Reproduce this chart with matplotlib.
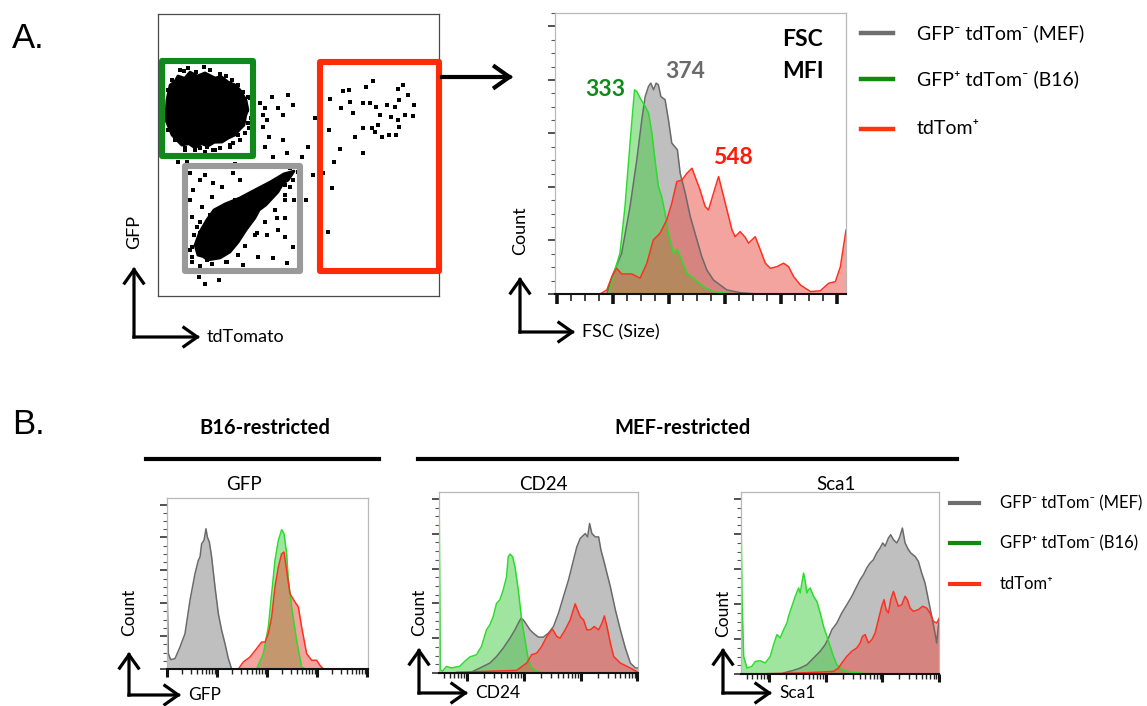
import numpy as np
import matplotlib.pyplot as plt
from matplotlib.patches import Rectangle, Polygon, FancyArrowPatch
from matplotlib.ticker import MultipleLocator, LogLocator, NullFormatter

plt.rcParams['font.family'] = ['Lato', 'DejaVu Sans']

# ---------------- data ----------------
# A: GFP vs tdTomato dot plot (channel units 0-1000)
b16_blob_td = [32, 43, 60, 71, 95, 114, 140, 167, 203, 225, 249, 275, 292, 313, 320, 312, 306, 290, 274,
               250, 228, 200, 178, 155, 132, 110, 85, 65, 50, 28]
b16_blob_gfp = [695, 748, 760, 780, 772, 794, 780, 791, 773, 778, 759, 748, 730, 695, 660, 640, 606, 590,
                571, 560, 546, 545, 532, 540, 525, 540, 535, 555, 571, 624]
mef_blob_td = [484, 463, 445, 427, 384, 360, 345, 313, 285, 256, 221, 178, 160, 142, 132, 149, 174, 199,
               238, 292, 345, 399, 448]
mef_blob_gfp = [443, 411, 400, 369, 323, 305, 277, 234, 191, 156, 135, 128, 140, 145, 181, 227, 270, 305,
                326, 348, 376, 404, 433]

dots_td = [612, 659, 680, 740, 765, 854, 872, 890, 911, 684, 651, 694, 730, 755, 776, 790, 815, 844,
           858, 879, 908, 829, 854, 783, 762, 730, 701, 773, 797, 822, 847, 858, 609, 648, 730, 627,
           587, 619, 605, 559, 552,
           363, 381, 374, 388, 406, 427, 445, 463, 481, 374, 395, 445, 459, 381, 409, 513, 534, 527,
           484, 452, 427, 452, 481, 356, 409, 459, 146, 167, 217, 139, 103, 71, 274,
           114, 150, 167, 196, 228, 267, 292, 125, 114, 157, 192, 121, 139, 121, 150, 174, 246, 303,
           352, 388, 424, 452, 470, 150, 167, 210, 121,
           93, 164, 242, 125, 142, 53, 36, 320, 317, 320, 310, 285, 267, 256, 121, 96, 150, 174, 43,
           53, 196, 221,
           78, 107, 135, 185, 221, 263, 285, 303, 328, 335, 331, 324, 292, 256, 203, 167, 132, 96,
           61, 36, 28, 36, 50,
           498, 470, 452, 417, 370, 328, 274, 228, 185, 150, 128, 114, 121, 150, 192, 242, 285, 310,
           345, 381, 417, 452, 481]
dots_gfp = [699, 728, 731, 742, 763, 735, 749, 714, 678, 689, 667, 650, 685, 685, 671, 643, 678, 671,
            696, 643, 639, 635, 625, 607, 596, 596, 564, 582, 564, 572, 572, 600, 589, 522, 508, 476,
            437, 383, 227, 632, 430,
            685, 667, 643, 625, 706, 667, 643, 714, 678, 600, 564, 554, 508, 529, 493, 493, 529, 341,
            341, 277, 234, 209, 174, 138, 135, 117, 67, 43, 57, 465, 476, 476, 469,
            437, 412, 430, 401, 387, 437, 412, 376, 341, 316, 351, 280, 245, 174, 153, 128, 121, 110,
            224, 217, 277, 341, 387, 224, 199, 153, 138,
            799, 813, 781, 767, 774, 731, 696, 706, 660, 614, 579, 572, 543, 529, 543, 525, 525, 529,
            600, 579, 518, 525,
            802, 809, 795, 802, 788, 767, 749, 724, 703, 678, 632, 596, 554, 536, 518, 511, 518, 518,
            554, 589, 660, 731, 767,
            440, 454, 394, 383, 341, 323, 341, 312, 288, 263, 217, 163, 121, 107, 114, 121, 146, 178,
            217, 263, 305, 359, 412]

gate_x0 = [14, 96, 577]
gate_x1 = [338, 506, 1000]
gate_y0 = [497, 89, 89]
gate_y1 = [834, 462, 831]
gate_colors = ['#11891a', '#9a9a9a', '#ff2a06']

# A: FSC histograms (% of max)
fsc_mef_x = [178, 201, 231, 261, 285, 303, 315, 327, 335, 345, 354, 362, 371, 386, 398, 410, 430, 440,
             458, 476, 493, 517, 535, 559, 607, 654, 714, 1032]
fsc_mef_y = [0, 7.7, 15.2, 32.7, 50.1, 65.1, 73.8, 77.6, 78.8, 76.3, 78.8, 78.2, 73.8, 72.6, 65.1, 56.4,
             53.9, 45.1, 37.7, 28.9, 22.7, 14.0, 9.0, 5.2, 1.5, 0.5, 0, 0]
fsc_b16_x = [184, 207, 225, 243, 261, 277, 285, 297, 315, 327, 339, 350, 362, 374, 386, 398, 416, 430,
             440, 464, 487, 523, 559, 607, 654, 1032]
fsc_b16_y = [0, 9.0, 15.2, 32.7, 56.4, 76.3, 75.7, 73.2, 70.1, 67.6, 60.1, 50.1, 40.2, 36.4, 30.2, 22.7,
             15.2, 16.7, 14.0, 7.7, 5.9, 2.7, 0.9, 0.2, 0, 0]
fsc_tdt_x = [-7, 154, 178, 196, 213, 231, 267, 297, 321, 344, 368, 392, 410, 428, 446, 464, 482, 493, 511,
             529, 541, 559, 577, 589, 607, 625, 636, 654, 672, 684, 708, 726, 744, 762, 785, 809,
             827, 845, 869, 905, 940, 970, 994, 1012, 1032]
fsc_tdt_y = [0, 0, 1.5, 6.5, 9.6, 7.5, 7.5, 5.9, 11.5, 20.2, 22.7, 27.7, 33.9, 42.0, 42.6, 45.1, 47.0,
             43.9, 38.9, 32.7, 31.4, 37.7, 43.9, 38.9, 31.4, 23.9, 21.4, 23.3, 21.2, 19.0, 21.4,
             16.5, 11.5, 9.6, 10.2, 11.5, 10.2, 6.5, 3.4, 0.9, 1.2, 4.0, 4.6, 10.2, 23.9]
fsc_mfi = [374, 333, 548]

# B: marker histograms (log10 intensity, % of max)
gfp_mef_lx = [1.0, 1.027, 1.073, 1.16, 1.26, 1.36, 1.46, 1.56, 1.627, 1.66, 1.693, 1.74, 1.78, 1.807,
              1.847, 1.893, 1.96, 2.027, 2.093, 2.16, 2.227, 2.293]
gfp_mef_y = [51.9, 9.3, 5.7, 6.3, 13.4, 21.5, 41.8, 58.0, 66.1, 68.1, 76.2, 78.2, 85.3, 80.3, 77.2,
             68.1, 49.9, 33.6, 23.5, 15.4, 6.3, 0]
gfp_b16_lx = [2.793, 2.927, 3.027, 3.093, 3.16, 3.227, 3.293, 3.34, 3.393, 3.427, 3.493, 3.593, 3.693, 3.76]
gfp_b16_y = [0, 9.3, 25.5, 45.8, 66.1, 78.2, 84.7, 82.3, 70.1, 53.9, 37.7, 17.4, 1.2, 0]
gfp_tdt_lx = [2.427, 2.527, 2.66, 2.793, 2.893, 2.96, 3.027, 3.093, 3.16, 3.227, 3.293, 3.34, 3.393,
              3.46, 3.56, 3.627, 3.693, 3.793, 3.893, 3.993, 4.06, 4.127]
gfp_tdt_y = [0, 4.3, 7.3, 12.4, 16.4, 16.4, 21.5, 31.6, 49.9, 62.0, 70.1, 71.1, 60.0, 45.8, 40.7,
             37.7, 25.5, 9.3, 5.3, 5.3, 2.2, 0]

cd24_mef_lx = [2.112, 2.288, 2.406, 2.524, 2.641, 2.759, 2.847, 2.906, 2.953, 2.994, 3.053, 3.112,
               3.171, 3.259, 3.347, 3.435, 3.524, 3.612, 3.7, 3.788, 3.876, 3.935, 3.994, 4.082,
               4.124, 4.159, 4.2, 4.259, 4.318, 4.359, 4.406, 4.465, 4.524, 4.612, 4.7, 4.788,
               4.876, 4.965, 5.012]
cd24_mef_y = [1.0, 3.8, 5.7, 9.5, 14.3, 20.0, 24.8, 28.6, 31.5, 30.5, 27.7, 24.8, 22.9, 20.6, 20.6,
              22.9, 26.7, 34.3, 43.9, 53.4, 64.9, 72.5, 77.3, 80.1, 78.2, 85.9, 80.1, 78.2, 78.2,
              70.6, 64.9, 57.2, 49.6, 36.3, 24.8, 14.3, 5.7, 2.9, 2.9]
cd24_b16_lx = [1.512, 1.535, 1.571, 1.641, 1.729, 1.876, 1.965, 2.053, 2.171, 2.259, 2.347, 2.406,
               2.465, 2.524, 2.582, 2.641, 2.7, 2.729, 2.759, 2.806, 2.847, 2.906, 2.965, 3.024,
               3.082, 3.141, 3.229, 3.406, 5.012]
cd24_b16_y = [110, 1.9, 1.0, 3.8, 2.9, 3.8, 6.7, 9.2, 10.5, 15.3, 24.8, 27.7, 32.4, 40.1, 42.0, 47.7,
              55.3, 66.8, 68.3, 66.8, 61.1, 47.7, 30.5, 19.1, 7.6, 2.9, 1.0, 0, 0]
cd24_tdt_lx = [1.818, 2.406, 2.876, 3.053, 3.141, 3.229, 3.318, 3.406, 3.506, 3.582, 3.641, 3.729,
               3.818, 3.906, 3.947, 3.994, 4.053, 4.112, 4.171, 4.241, 4.318, 4.376, 4.418, 4.465,
               4.524, 4.582, 4.7, 4.818, 4.906, 5.012]
cd24_tdt_y = [0.4, 1.0, 1.5, 5.7, 10.5, 11.4, 15.3, 21.0, 25.2, 21.0, 20.0, 24.8, 30.5, 39.7, 36.3,
              32.4, 30.5, 24.8, 24.8, 26.7, 24.8, 28.6, 32.8, 26.7, 17.2, 9.5, 5.7, 3.8, 2.3, 0.4]

sca1_mef_lx = [2.253, 2.429, 2.547, 2.665, 2.782, 2.9, 2.988, 3.047, 3.106, 3.194, 3.282, 3.371,
               3.459, 3.547, 3.606, 3.665, 3.724, 3.782, 3.841, 3.9, 3.959, 4.006, 4.047, 4.106,
               4.147, 4.194, 4.253, 4.3, 4.353, 4.4, 4.459, 4.5, 4.576, 4.635, 4.694, 4.753, 4.812,
               4.871, 4.929, 4.959, 4.988, 5.006]
sca1_mef_y = [0.6, 2.1, 3.4, 5.3, 9.1, 13.0, 16.8, 20.6, 25.3, 29.1, 34.9, 39.6, 44.4, 50.1, 53.9,
              56.8, 60.6, 63.4, 65.3, 69.2, 72.0, 74.9, 73.0, 77.7, 79.6, 76.8, 74.9, 77.7, 83.4,
              74.9, 71.1, 69.2, 67.2, 64.4, 57.7, 52.0, 42.5, 33.0, 23.4, 17.7, 27.2, 31.1]
sca1_b16_lx = [1.5, 1.518, 1.547, 1.606, 1.694, 1.753, 1.841, 1.929, 2.018, 2.076, 2.135, 2.194, 2.253,
               2.312, 2.341, 2.4, 2.459, 2.518, 2.547, 2.576, 2.606, 2.635, 2.665, 2.694, 2.724,
               2.782, 2.841, 2.9, 2.959, 3.018, 3.076, 3.135, 3.194, 3.282, 3.429, 3.724, 4.312, 5.006]
sca1_b16_y = [93.9, 42.5, 10.1, 3.4, 4.4, 7.2, 7.6, 6.3, 10.1, 16.8, 22.5, 20.6, 25.3, 29.1, 33.0,
              38.7, 44.4, 49.1, 46.3, 52.0, 57.7, 53.0, 46.3, 48.2, 49.1, 44.4, 41.5, 34.9, 27.2,
              21.5, 15.8, 10.1, 5.3, 2.5, 1.0, 0.2, 0, 0]
sca1_tdt_lx = [1.959, 2.547, 2.841, 3.135, 3.224, 3.282, 3.371, 3.459, 3.547, 3.606, 3.647, 3.694,
               3.753, 3.812, 3.871, 3.929, 3.988, 4.029, 4.065, 4.106, 4.147, 4.194, 4.241, 4.282,
               4.341, 4.4, 4.441, 4.488, 4.547, 4.635, 4.712, 4.782, 4.841, 4.9, 4.959, 5.006]
sca1_tdt_y = [0.2, 0.6, 1.0, 1.5, 3.4, 6.3, 10.1, 13.0, 14.9, 17.7, 21.5, 22.5, 17.7, 19.6, 23.4,
              31.1, 38.7, 42.5, 36.8, 34.9, 42.5, 47.2, 42.5, 38.7, 39.6, 44.4, 42.5, 37.7, 35.8,
              36.8, 38.7, 37.7, 34.9, 30.1, 29.1, 32.0]

legend_labels = ['GFP⁻ tdTom⁻ (MEF)', 'GFP⁺ tdTom⁻ (B16)', 'tdTom⁺']
legend_colors = ['#6e6e6e', '#0c8c0c', '#ff3214']

# colours of the overlays (MEF, B16, tdTom)
fill_colors = ['#808080', '#41cd41', '#eb4b41']
line_colors = ['#6a6a6a', '#2cdc2c', '#ff3020']

# ---------------- figure ----------------
W, H = 1147, 706
fig = plt.figure(figsize=(W / 100, H / 100), dpi=100)

ov = fig.add_axes([0, 0, 1, 1], zorder=5)
ov.set_xlim(0, W)
ov.set_ylim(H, 0)
ov.axis('off')


def box(l, t, r, b):
    return fig.add_axes([l / W, 1 - b / H, (r - l) / W, (b - t) / H])


def arrow(x0, y0, x1, y1, lw=2.3, ms=20):
    ov.add_patch(FancyArrowPatch((x0, y0), (x1, y1), arrowstyle='->,head_length=0.48,head_width=0.34',
                                 mutation_scale=ms, lw=lw, color='k', shrinkA=0, shrinkB=0,
                                 capstyle='projecting', joinstyle='miter'))


def corner_arrows(x, y, top, right, ylab, xlab, ylab_y, fs=12.5):
    arrow(x, y, x, top)
    arrow(x, y, right, y)
    ov.text(x, ylab_y, ylab, rotation=90, ha='center', va='center', fontsize=fs)
    ov.text(right + 7, y, xlab, ha='left', va='center', fontsize=fs)


def style_hist(ax, xlog):
    for s in ['top', 'right', 'left']:
        ax.spines[s].set_color('#b8b8b8')
        ax.spines[s].set_linewidth(0.9)
    ax.spines['bottom'].set_color('#111111')
    ax.spines['bottom'].set_linewidth(1.5)
    ax.yaxis.set_major_locator(MultipleLocator(20))
    ax.yaxis.set_minor_locator(MultipleLocator(5))
    if xlog:
        ax.set_xscale('log')
        ax.xaxis.set_major_locator(LogLocator(base=10, numticks=10))
        ax.xaxis.set_minor_locator(LogLocator(base=10, subs=np.arange(2, 10), numticks=10))
        ax.xaxis.set_minor_formatter(NullFormatter())
    else:
        ax.xaxis.set_major_locator(MultipleLocator(200))
        ax.xaxis.set_minor_locator(MultipleLocator(50))
    ax.tick_params(axis='both', which='both', direction='out', labelleft=False, labelbottom=False)
    ax.tick_params(axis='y', which='major', length=5, width=1.2, color='#333333')
    ax.tick_params(axis='y', which='minor', length=3, width=0.8, color='#555555')
    ax.tick_params(axis='x', which='major', length=5.5, width=2.2, color='#111111')
    ax.tick_params(axis='x', which='minor', length=3.5, width=1, color='#222222')


def overlay(ax, curves):
    for (xs, ys), fc, lc in zip(curves, fill_colors, line_colors):
        ax.fill_between(xs, ys, color=fc, alpha=0.5, lw=0)
        ax.plot(xs, ys, color=lc, lw=1.1)


# ---- A: dot plot ----
ax_s = box(158, 14, 439, 296)
ax_s.set_xlim(0, 1000)
ax_s.set_ylim(0, 1000)
ax_s.set_xticks([])
ax_s.set_yticks([])
for s in ax_s.spines.values():
    s.set_color('#4a4a4a')
    s.set_linewidth(0.9)
for bx, by in [(b16_blob_td, b16_blob_gfp), (mef_blob_td, mef_blob_gfp)]:
    ax_s.add_patch(Polygon(np.column_stack([bx, by]), closed=True, fc='k', ec='k', lw=2, joinstyle='round'))
ax_s.scatter(dots_td, dots_gfp, s=6, c='k', marker='s', lw=0)
for x0, x1, y0, y1, c in zip(gate_x0, gate_x1, gate_y0, gate_y1, gate_colors):
    ax_s.add_patch(Rectangle((x0, y0), x1 - x0, y1 - y0, fill=False, ec=c, lw=4.4,
                             joinstyle='round', clip_on=False, zorder=4))

ov.text(12, 39, 'A.', fontsize=25, family='Liberation Sans', va='center', ha='left')
corner_arrows(134, 337, 267, 200, 'GFP', 'tdTomato', 232, fs=13)
arrow(442, 77, 513, 77, lw=3, ms=22)

# ---- A: FSC histogram ----
ax_f = box(555, 13, 846, 294)
overlay(ax_f, [(fsc_mef_x, fsc_mef_y), (fsc_b16_x, fsc_b16_y), (fsc_tdt_x, fsc_tdt_y)])
ax_f.set_xlim(-7, 1032)
ax_f.set_ylim(0, 105)
style_hist(ax_f, xlog=False)
ax_f.tick_params(axis='x', which='major', length=7, width=2.6)
ax_f.tick_params(axis='x', which='minor', length=5, width=1.2)
corner_arrows(520, 332, 277, 575, 'Count', 'FSC (Size)', 231, fs=13)

for txt, c, (x, y) in zip(fsc_mfi, ['#6a6a6a', '#11891a', '#ff1a0a'], [(685, 72), (605, 90), (733, 157)]):
    ov.text(x, y, str(txt), color=c, fontsize=16.5, fontweight='bold', ha='center', va='center')
ov.text(803, 40, 'FSC', fontsize=16.5, fontweight='bold', ha='center', va='center')
ov.text(803, 72, 'MFI', fontsize=16.5, fontweight='bold', ha='center', va='center')

for lab, c, y in zip(legend_labels, legend_colors, [33, 79, 129]):
    ov.plot([861, 893], [y, y], color=c, lw=3.2)
    ov.text(917, y, lab, fontsize=14, ha='left', va='center')

# ---- B ----
ov.text(12, 425, 'B.', fontsize=25, family='Liberation Sans', va='center', ha='left')
ov.text(265, 428, 'B16-restricted', fontsize=14.5, fontweight='bold', ha='center', va='center')
ov.text(682, 428, 'MEF-restricted', fontsize=14.5, fontweight='bold', ha='center', va='center')
ov.plot([146, 379], [459, 459], color='k', lw=3)
ov.plot([418, 957], [459, 459], color='k', lw=3)

panels = [
    ('GFP', (167, 498, 368, 669), (1.0, 5.02), 244,
     [(gfp_mef_lx, gfp_mef_y), (gfp_b16_lx, gfp_b16_y), (gfp_tdt_lx, gfp_tdt_y)],
     (129, 695, 652, 181, 612)),
    ('CD24', (439, 492, 638, 673), (1.512, 5.01), 543,
     [(cd24_mef_lx, cd24_mef_y), (cd24_b16_lx, cd24_b16_y), (cd24_tdt_lx, cd24_tdt_y)],
     (419, 693, 648, 468, 612)),
    ('Sca1', (741, 492, 939, 674), (1.5, 5.0), 836,
     [(sca1_mef_lx, sca1_mef_y), (sca1_b16_lx, sca1_b16_y), (sca1_tdt_lx, sca1_tdt_y)],
     (723, 693, 648, 772, 613)),
]
for name, (l, t, r, b), (lo, hi), cx, curves, (ax_x, ax_y, top, right, cy) in panels:
    ax = box(l, t, r, b)
    overlay(ax, [(10 ** np.array(xs), ys) for xs, ys in curves])
    ax.set_xlim(10 ** lo, 10 ** hi)
    ax.set_ylim(0, 104)
    style_hist(ax, xlog=True)
    ov.text(cx, 484, name, fontsize=13.5, ha='center', va='center')
    corner_arrows(ax_x, ax_y, top, right, 'Count', name, cy)

for lab, c, y in zip(legend_labels, legend_colors, [503, 543, 584]):
    ov.plot([950, 979], [y, y], color=c, lw=3)
    ov.text(1000, y, lab, fontsize=12, ha='left', va='center')

fig.savefig('out.png', dpi=100)
